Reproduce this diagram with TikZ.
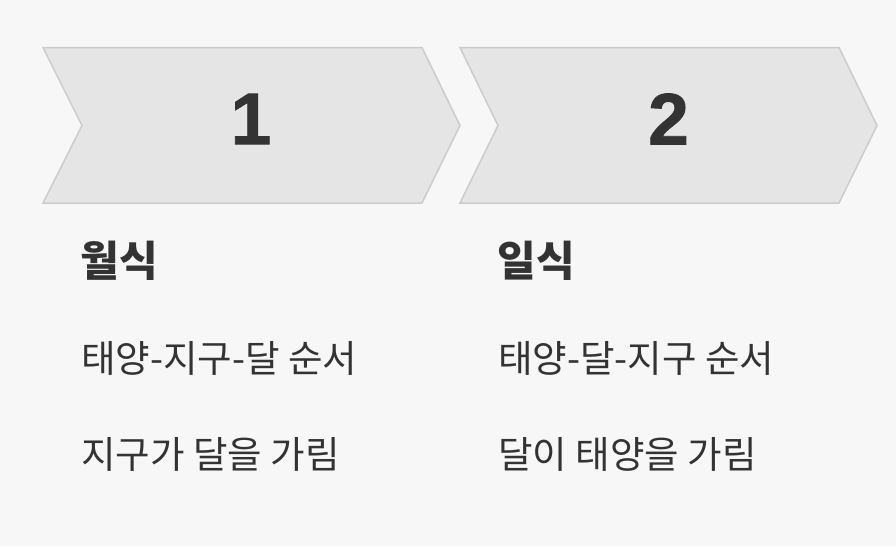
\documentclass[tikz,border=0pt]{standalone}
\usepackage{fontspec}
\setmainfont{Noto Sans CJK KR}
\newfontfamily\krfont{Noto Sans CJK KR}
\newfontfamily\krblack{Noto Sans CJK KR Black}
\newfontfamily\numfont[BoldFeatures={FakeBold=1.2}]{Liberation Sans}
\definecolor{bgc}{HTML}{F7F7F7}
\definecolor{chfill}{HTML}{E5E5E5}
\definecolor{chline}{HTML}{CCCCCC}
\definecolor{txt}{HTML}{333333}
\tikzset{
  chev/.style={fill=chfill, draw=chline, line width=1.5pt, line join=miter},
  num/.style={font=\numfont\bfseries\fontsize{73}{73}\selectfont, text=txt, inner sep=0pt},
  ttl/.style={font=\krblack\fontsize{42}{42}\selectfont, text=txt, inner sep=0pt, anchor=base west},
  body/.style={font=\krfont\fontsize{37.5}{37.5}\selectfont, text=txt, inner sep=0pt, anchor=base west},
}
\begin{document}
\begin{tikzpicture}[x=1pt,y=-1pt]
\fill[bgc] (0,0) rectangle (896,546);
\useasboundingbox (0,0) rectangle (896,546);
\draw[chev] (43,47.5) -- (422,47.5) -- (460,125.5) -- (422,203) -- (43,203) -- (82,125.5) -- cycle;
\draw[chev] (460,47.5) -- (839,47.5) -- (877,125.5) -- (839,203) -- (460,203) -- (498,125.5) -- cycle;
\node[num] (n1) at (251,119) {1};
\node[num] (n2) at (668.5,119) {2};
\node[ttl] (t1) at (80.5,276.5) {월식};
\node[ttl] (t2) at (497.5,276.5) {일식};
\node[body] (a1) at (81,372) {태양-지구-달 순서};
\node[body] (a2) at (498,372) {태양-달-지구 순서};
\node[body] (b1) at (81,468) {지구가 달을 가림};
\node[body] (b2) at (498,468) {달이 태양을 가림};
\end{tikzpicture}
\end{document}
